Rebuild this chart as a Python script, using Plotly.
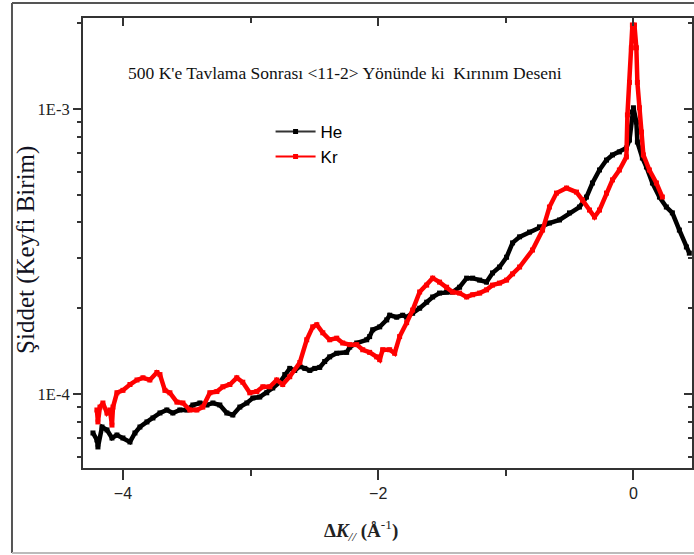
import plotly.graph_objects as go

# Diffraction profiles after 500 K annealing along <11-2>
he_x = [-4.235, -4.204, -4.196, -4.164, -4.125, -4.086, -4.047, -4.000, -3.945, -3.906,
        -3.867, -3.812, -3.765, -3.710, -3.656, -3.609, -3.554, -3.499, -3.452, -3.397,
        -3.342, -3.295, -3.241, -3.186, -3.139, -3.084, -3.029, -2.982, -2.928, -2.873,
        -2.826, -2.771, -2.732, -2.693, -2.654, -2.614, -2.575, -2.536, -2.497, -2.458,
        -2.419, -2.380, -2.325, -2.247, -2.223, -2.168, -2.090, -2.067, -2.043, -1.988,
        -1.933, -1.910, -1.855, -1.808, -1.777, -1.730, -1.675, -1.620, -1.573, -1.519,
        -1.464, -1.417, -1.362, -1.307, -1.260, -1.205, -1.151, -1.104, -1.049, -0.994,
        -0.947, -0.892, -0.814, -0.736, -0.658, -0.579, -0.501, -0.423, -0.368, -0.321,
        -0.266, -0.211, -0.164, -0.110, -0.055, -0.031, -0.008, 0.000, 0.023, 0.031,
        0.070, 0.102, 0.149, 0.204, 0.258, 0.305, 0.360, 0.415, 0.438]
he_y = [7.30e-5, 6.90e-5, 6.52e-5, 7.66e-5, 7.48e-5, 7.01e-5, 7.18e-5, 7.01e-5, 6.79e-5, 7.30e-5,
        7.66e-5, 7.98e-5, 8.24e-5, 8.58e-5, 8.79e-5, 8.58e-5, 8.79e-5, 8.79e-5, 9.15e-5, 9.30e-5,
        9.15e-5, 9.30e-5, 9.15e-5, 8.58e-5, 8.44e-5, 9.00e-5, 9.30e-5, 9.68e-5, 9.76e-5, 1.01e-4,
        1.05e-4, 1.10e-4, 1.17e-4, 1.23e-4, 1.21e-4, 1.25e-4, 1.23e-4, 1.21e-4, 1.23e-4, 1.24e-4,
        1.30e-4, 1.35e-4, 1.39e-4, 1.40e-4, 1.46e-4, 1.51e-4, 1.55e-4, 1.59e-4, 1.68e-4, 1.72e-4,
        1.82e-4, 1.89e-4, 1.86e-4, 1.89e-4, 1.86e-4, 1.92e-4, 2.00e-4, 2.10e-4, 2.19e-4, 2.26e-4,
        2.28e-4, 2.28e-4, 2.37e-4, 2.55e-4, 2.55e-4, 2.51e-4, 2.47e-4, 2.66e-4, 2.79e-4, 3.02e-4,
        3.39e-4, 3.56e-4, 3.70e-4, 3.86e-4, 3.98e-4, 4.08e-4, 4.32e-4, 4.53e-4, 4.91e-4, 5.50e-4,
        6.11e-4, 6.62e-4, 6.90e-4, 7.07e-4, 7.30e-4, 7.78e-4, 9.76e-4, 1.01e-3, 9.00e-4, 7.66e-4,
        6.73e-4, 6.26e-4, 5.50e-4, 4.91e-4, 4.53e-4, 4.32e-4, 3.76e-4, 3.28e-4, 3.12e-4]

kr_x = [-4.204, -4.196, -4.180, -4.157, -4.125, -4.102, -4.086, -4.078, -4.047, -4.000,
        -3.945, -3.890, -3.843, -3.789, -3.734, -3.710, -3.671, -3.632, -3.577, -3.530,
        -3.476, -3.421, -3.374, -3.319, -3.264, -3.217, -3.162, -3.108, -3.061, -3.006,
        -2.951, -2.904, -2.849, -2.795, -2.748, -2.693, -2.614, -2.560, -2.513, -2.481,
        -2.434, -2.380, -2.325, -2.278, -2.223, -2.168, -2.121, -2.067, -2.012, -1.988,
        -1.965, -1.910, -1.871, -1.832, -1.777, -1.730, -1.675, -1.620, -1.573, -1.519,
        -1.464, -1.417, -1.362, -1.307, -1.260, -1.205, -1.151, -1.104, -1.049, -0.994,
        -0.947, -0.892, -0.791, -0.712, -0.658, -0.603, -0.524, -0.446, -0.399, -0.344,
        -0.305, -0.266, -0.211, -0.164, -0.110, -0.055, -0.047, -0.031, -0.016, -0.008,
        0.008, 0.023, 0.031, 0.047, 0.063, 0.078, 0.125, 0.180, 0.227]
kr_y = [8.79e-5, 7.98e-5, 9.00e-5, 9.30e-5, 8.58e-5, 8.79e-5, 7.78e-5, 9.00e-5, 1.01e-4, 1.03e-4,
        1.08e-4, 1.12e-4, 1.14e-4, 1.12e-4, 1.19e-4, 1.17e-4, 1.03e-4, 1.01e-4, 9.37e-5, 9.30e-5,
        8.79e-5, 8.79e-5, 9.00e-5, 1.01e-4, 1.02e-4, 1.06e-4, 1.08e-4, 1.14e-4, 1.10e-4, 1.01e-4,
        1.02e-4, 1.06e-4, 1.06e-4, 1.12e-4, 1.08e-4, 1.15e-4, 1.29e-4, 1.55e-4, 1.72e-4, 1.75e-4,
        1.64e-4, 1.55e-4, 1.57e-4, 1.51e-4, 1.49e-4, 1.49e-4, 1.43e-4, 1.40e-4, 1.35e-4, 1.32e-4,
        1.43e-4, 1.43e-4, 1.39e-4, 1.59e-4, 1.78e-4, 1.97e-4, 2.28e-4, 2.41e-4, 2.55e-4, 2.47e-4,
        2.37e-4, 2.28e-4, 2.26e-4, 2.19e-4, 2.23e-4, 2.26e-4, 2.32e-4, 2.41e-4, 2.45e-4, 2.51e-4,
        2.64e-4, 2.79e-4, 3.20e-4, 3.76e-4, 4.53e-4, 5.07e-4, 5.28e-4, 5.11e-4, 4.79e-4, 4.42e-4,
        4.18e-4, 4.42e-4, 5.07e-4, 5.64e-4, 6.11e-4, 6.79e-4, 9.53e-4, 1.24e-3, 1.64e-3, 1.97e-3,
        1.97e-3, 1.64e-3, 1.24e-3, 1.01e-3, 8.30e-4, 6.90e-4, 6.11e-4, 5.50e-4, 4.91e-4]

x_major = [-4, -2, 0]
x_minor = [-3, -1]
y_major = [1e-4, 1e-3]
y_major_text = ["1E-4", "1E-3"]
y_minor = [6e-5, 7e-5, 8e-5, 9e-5, 2e-4, 3e-4, 4e-4, 5e-4, 6e-4, 7e-4, 8e-4, 9e-4, 2e-3]

X_RANGE = [-4.313, 0.459]
Y_RANGE = [-4.2596, -2.6807]
AXIS_COLOR = "#333333"
SERIF = "Liberation Serif, Times New Roman, serif"
SANS = "Liberation Sans, Arial, sans-serif"

fig = go.Figure()

# measured profiles (drawn without legend entries)
fig.add_trace(go.Scatter(x=he_x, y=he_y, mode="lines+markers", showlegend=False,
                         line=dict(color="#000000", width=4.5),
                         marker=dict(symbol="square", size=5, color="#000000")))
fig.add_trace(go.Scatter(x=kr_x, y=kr_y, mode="lines+markers", showlegend=False,
                         line=dict(color="#ff0000", width=4.5),
                         marker=dict(symbol="square", size=5, color="#ff0000")))

# legend keys: thin line with a small square symbol
fig.add_trace(go.Scatter(x=[None], y=[None], name="He", mode="lines+markers",
                         xaxis="x2", yaxis="y2",
                         line=dict(color="#333333", width=2),
                         marker=dict(symbol="square", size=5, color="#000000")))
fig.add_trace(go.Scatter(x=[None], y=[None], name="Kr", mode="lines+markers",
                         xaxis="x2", yaxis="y2",
                         line=dict(color="#ff0000", width=2),
                         marker=dict(symbol="square", size=5, color="#ff0000")))

fig.update_layout(
    width=694, height=555,
    margin=dict(l=83, r=2, t=18, b=87),
    paper_bgcolor="white", plot_bgcolor="white",
    xaxis=dict(
        range=X_RANGE, showgrid=False, zeroline=False,
        showline=True, linecolor=AXIS_COLOR, linewidth=2,
        ticks="outside", ticklen=10, tickwidth=2, tickcolor=AXIS_COLOR,
        tickmode="array", tickvals=x_major,
        tickfont=dict(family=SANS, size=16, color="#222222"),
        minor=dict(tickmode="array", tickvals=x_minor, ticks="outside",
                   ticklen=6, tickwidth=2, tickcolor=AXIS_COLOR),
    ),
    yaxis=dict(
        type="log", range=Y_RANGE, showgrid=False, zeroline=False,
        showline=True, linecolor=AXIS_COLOR, linewidth=2,
        ticks="outside", ticklen=8, tickwidth=2, tickcolor=AXIS_COLOR,
        tickmode="array", tickvals=y_major, ticktext=y_major_text,
        tickfont=dict(family=SERIF, size=16.5, color="#222222"),
        minor=dict(tickmode="array", tickvals=y_minor, ticks="outside",
                   ticklen=4, tickwidth=2, tickcolor=AXIS_COLOR),
    ),
    # mirrored frame with inward ticks on top and right
    xaxis2=dict(
        overlaying="x", side="top", anchor="y", range=X_RANGE,
        showgrid=False, zeroline=False, showticklabels=False,
        showline=True, linecolor=AXIS_COLOR, linewidth=2,
        ticks="inside", ticklen=8, tickwidth=2, tickcolor=AXIS_COLOR,
        tickmode="array", tickvals=x_major,
        minor=dict(tickmode="array", tickvals=x_minor, ticks="inside",
                   ticklen=5, tickwidth=2, tickcolor=AXIS_COLOR),
    ),
    yaxis2=dict(
        overlaying="y", side="right", anchor="x", type="log", range=Y_RANGE,
        showgrid=False, zeroline=False, showticklabels=False,
        showline=True, linecolor=AXIS_COLOR, linewidth=2,
        ticks="inside", ticklen=8, tickwidth=2, tickcolor=AXIS_COLOR,
        tickmode="array", tickvals=y_major,
        minor=dict(tickmode="array", tickvals=y_minor, ticks="inside",
                   ticklen=4, tickwidth=2, tickcolor=AXIS_COLOR),
    ),
    legend=dict(
        x=0.308, y=0.787, xanchor="left", yanchor="top",
        bgcolor="rgba(0,0,0,0)", borderwidth=0,
        font=dict(family=SANS, size=17, color="#000000"),
        itemwidth=40, tracegroupgap=0,
    ),
)

fig.add_annotation(
    text="500 K'e Tavlama Sonrası &lt;11-2&gt; Yönünde ki  Kırınım Deseni",
    xref="paper", yref="paper", x=0.430, y=0.878,
    xanchor="center", yanchor="middle",
    showarrow=False, font=dict(family=SERIF, size=17.5, color="#111111"),
)
fig.add_annotation(
    text="Şiddet (Keyfi Birim)", textangle=-90,
    xref="paper", yref="paper", x=-0.094, y=0.484,
    xanchor="center", yanchor="middle",
    showarrow=False, font=dict(family=SERIF, size=25, color="#111122"),
)
fig.add_annotation(
    text="<b>Δ<i>K</i></b><sub><i>//</i></sub> <b>(Å</b><sup>-1</sup><b>)</b>",
    xref="paper", yref="paper", x=0.456, y=-0.138,
    xanchor="center", yanchor="middle",
    showarrow=False, font=dict(family=SERIF, size=19, color="#222222"),
)

# outer page frame
fig.add_shape(type="line", xref="paper", yref="paper",
              x0=-0.1166, x1=-0.1166, y0=1.0333, y1=-0.1889,
              line=dict(color="#555555", width=2))
fig.add_shape(type="line", xref="paper", yref="paper",
              x0=-0.1166, x1=1.02, y0=1.0333, y1=1.0333,
              line=dict(color="#555555", width=2))
fig.add_shape(type="line", xref="paper", yref="paper",
              x0=-0.1166, x1=1.02, y0=-0.1889, y1=-0.1889,
              line=dict(color="#bbbbbb", width=2))

fig.write_html("out.html")
